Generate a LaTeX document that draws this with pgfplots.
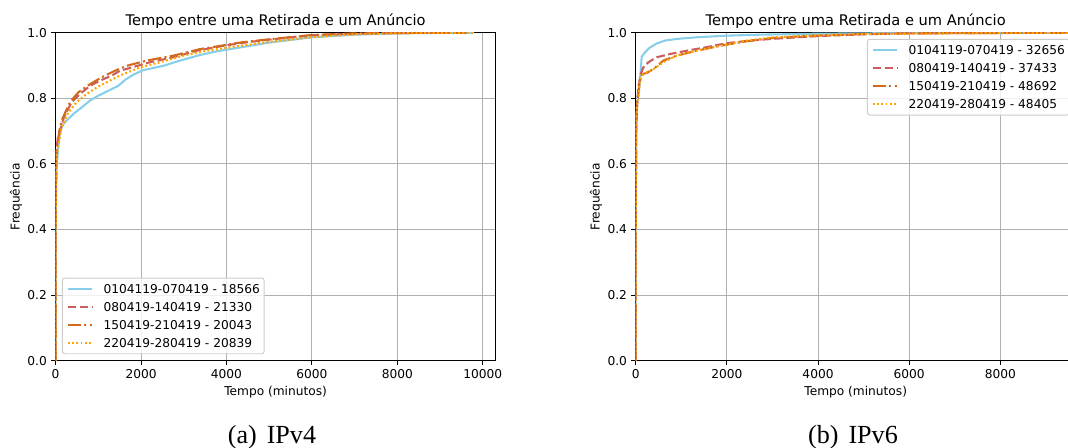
\documentclass[border=0pt]{standalone}
\usepackage{fontspec}
\setmainfont{DejaVu Sans}
\newfontfamily\capfont{Liberation Serif}
\usepackage{pgfplots}
\pgfplotsset{compat=1.18}

\newlength\px
\setlength\px{0.82pt}

\definecolor{cblue}{HTML}{87CEEB}
\definecolor{cred}{HTML}{CD5C5C}
\definecolor{cchoc}{HTML}{D2691E}
\definecolor{corange}{HTML}{FFA500}
\definecolor{gridgray}{HTML}{B0B0B0}
\definecolor{legframe}{HTML}{CCCCCC}

\pgfplotsset{
  sblue/.style={cblue, line width=1.7pt, solid},
  sred/.style={cred, line width=1.7pt, dash pattern=on 7pt off 2.8pt},
  schoc/.style={cchoc, line width=1.7pt, dash pattern=on 10.9pt off 2.7pt on 1.7pt off 2.7pt},
  sorange/.style={corange, line width=1.7pt, dash pattern=on 1.6pt off 1.9pt},
  cdfbase/.style={
    scale only axis, width=440\px, height=328\px,
    xmin=0, ymin=0, ymax=1,
    ytick={0,0.2,0.4,0.6,0.8,1},
    grid=major, grid style={gridgray, line width=0.8pt},
    axis line style={line width=0.8pt},
    tick align=outside, major tick length=3.5pt,
    every tick/.style={black, line width=0.8pt},
    xtick pos=bottom, ytick pos=left,
    scaled x ticks=false,
    /pgf/number format/assume math mode=true,
    xticklabel style={/pgf/number format/1000 sep={}, inner sep=3.5pt},
    yticklabel style={/pgf/number format/.cd, fixed, fixed zerofill, precision=1, /tikz/inner sep=3.5pt},
    title={Tempo entre uma Retirada e um Anúncio},
    every axis title/.style={at={(axis description cs:0.5,1.022)}, anchor=base, inner sep=0pt, font=\fontsize{12}{14}\selectfont},
    xlabel={Tempo (minutos)},
    every axis x label/.style={at={(axis description cs:0.5,-0.1046)}, anchor=base, inner sep=0pt},
    ylabel={Frequência},
    every axis y label/.style={at={(axis description cs:-0.082,0.5)}, anchor=base, rotate=90, inner sep=0pt},
    legend image code/.code={\draw[#1] (0pt,0pt) -- (20pt,0pt);},
    legend cell align=left,
    legend style={
      draw=legframe, line width=0.8pt, fill=white, fill opacity=0.8,
      draw opacity=1, text opacity=1, rounded corners=2pt,
      inner xsep=3.5pt, inner ysep=5.2pt,
      row sep=7.5pt, column sep=8.6pt,
      nodes={inner sep=0pt, text height=7.3pt, text depth=0pt},
      font=\fontsize{10}{12}\selectfont,
    },
  },
}

\begin{document}
\begin{tikzpicture}
\useasboundingbox (0,0) rectangle (1068\px,448\px);
\clip (0,0) rectangle (1068\px,448\px);

% IPv4
\begin{axis}[cdfbase,
  at={(55.6\px,87.3\px)}, anchor=south west,
  xmax=10300, xtick={0,2000,4000,6000,8000,10000},
  legend style={at={(axis description cs:0.0144,0.0197)}, anchor=south west},
]
\addplot[sblue] coordinates {
 (0,0) (0,0.30) (5,0.45) (15,0.55) (30,0.60) (62,0.65) (100,0.69) (140,0.711)
 (200,0.724) (258,0.732) (414,0.752) (609,0.772) (805,0.793) (1000,0.808)
 (1234,0.823) (1468,0.838) (1625,0.856) (1820,0.872) (2054,0.886) (2523,0.899)
 (2913,0.915) (3382,0.932) (3772,0.943) (4319,0.955) (5000,0.970) (5500,0.978)
 (6000,0.986) (7000,0.994) (8000,0.998) (9000,0.9995) (9800,1.0)};
\addlegendentry{0104119-070419 - 18566}
\addplot[sred] coordinates {
 (0,0) (0,0.35) (5,0.50) (12,0.60) (23,0.65) (60,0.685) (100,0.70) (195,0.742)
 (375,0.788) (570,0.813) (805,0.838) (1040,0.854) (1312,0.869) (1507,0.884)
 (1781,0.894) (2210,0.91) (2757,0.925) (3304,0.945) (3929,0.960) (4319,0.968)
 (5000,0.979) (6000,0.992) (7000,0.997) (8000,0.999) (9600,1.0)};
\addlegendentry{080419-140419 - 21330}
\addplot[schoc] coordinates {
 (0,0) (0,0.35) (5,0.50) (12,0.60) (23,0.64) (86,0.70) (140,0.732) (336,0.788)
 (531,0.818) (805,0.843) (1078,0.864) (1390,0.884) (1664,0.899) (2132,0.915)
 (2757,0.930) (3382,0.950) (4007,0.963) (4319,0.970) (5000,0.980) (6000,0.993)
 (7000,0.998) (8000,0.999) (9700,1.0)};
\addlegendentry{150419-210419 - 20043}
\addplot[sorange] coordinates {
 (0,0) (0,0.33) (5,0.48) (15,0.58) (30,0.63) (140,0.711) (297,0.757) (492,0.788)
 (726,0.813) (961,0.833) (1273,0.854) (1585,0.874) (1976,0.894) (2445,0.910)
 (2991,0.930) (3538,0.945) (4163,0.957) (5000,0.972) (6000,0.986) (7000,0.995)
 (8000,0.998) (9800,1.0)};
\addlegendentry{220419-280419 - 20839}
\end{axis}

% IPv6
\begin{axis}[cdfbase,
  at={(635.7\px,87.3\px)}, anchor=south west,
  xmax=9654, xtick={0,2000,4000,6000,8000},
  legend style={at={(axis description cs:0.9861,0.9814)}, anchor=north east},
]
\addplot[sblue] coordinates {
 (0,0) (0,0.40) (10,0.70) (30,0.78) (80,0.833) (110,0.884) (132,0.927) (205,0.94)
 (314,0.955) (460,0.967) (643,0.976) (899,0.981) (1338,0.986) (1996,0.991)
 (2727,0.994) (4000,0.997) (6000,0.999) (9300,1.0)};
\addlegendentry{0104119-070419 - 32656}
\addplot[sred] coordinates {
 (0,0) (0,0.40) (10,0.70) (30,0.78) (58,0.833) (110,0.874) (168,0.894) (278,0.91)
 (460,0.925) (753,0.935) (1118,0.945) (1557,0.956) (1996,0.968) (2580,0.977)
 (3311,0.984) (4042,0.990) (5000,0.995) (6000,0.998) (9500,1.0)};
\addlegendentry{080419-140419 - 37433}
\addplot[schoc] coordinates {
 (0,0) (0,0.40) (10,0.70) (30,0.79) (80,0.843) (132,0.874) (241,0.877) (387,0.889)
 (607,0.915) (899,0.93) (1338,0.945) (1849,0.96) (2434,0.974) (3019,0.984)
 (3750,0.990) (5000,0.996) (6000,0.998) (9500,1.0)};
\addlegendentry{150419-210419 - 48692}
\addplot[sorange] coordinates {
 (0,0) (0,0.40) (10,0.70) (30,0.78) (60,0.80) (95,0.859) (168,0.874) (387,0.889)
 (607,0.91) (899,0.93) (1338,0.945) (1849,0.96) (2434,0.976) (3019,0.986)
 (4000,0.992) (5000,0.996) (9500,1.0)};
\addlegendentry{220419-280419 - 48405}
\end{axis}

\node[font=\capfont\fontsize{21.4}{25}\selectfont, anchor=base, inner sep=0pt] at (272\px,4.7\px) {(a)\hspace{0.38em}IPv4};
\node[font=\capfont\fontsize{21.4}{25}\selectfont, anchor=base, inner sep=0pt] at (853\px,4.7\px) {(b)\hspace{0.38em}IPv6};
\end{tikzpicture}
\end{document}
